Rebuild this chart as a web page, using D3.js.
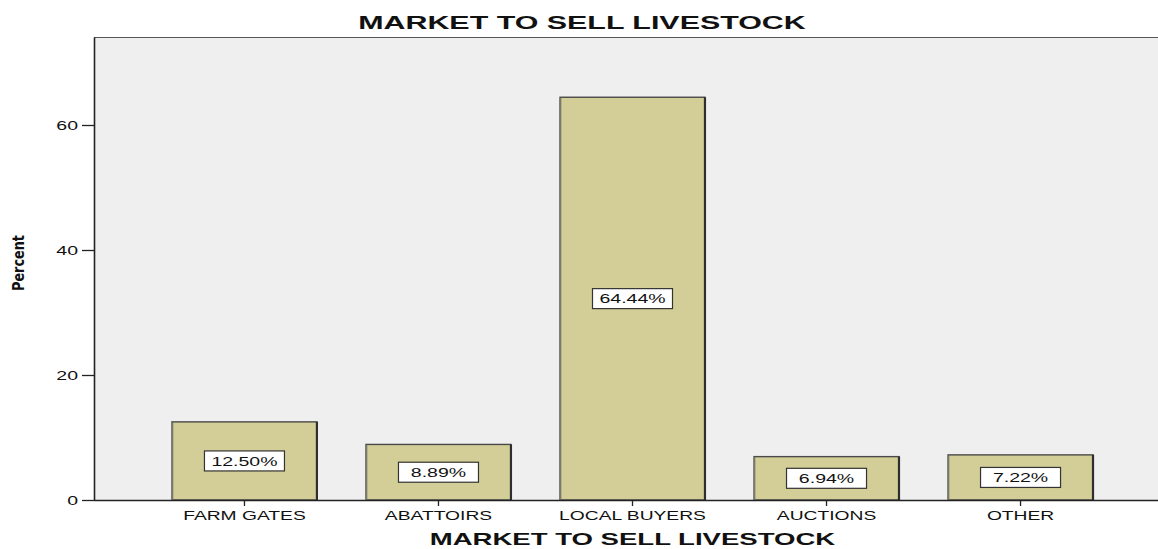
<!DOCTYPE html>
<html>
<head>
<meta charset="utf-8">
<script src="https://cdn.jsdelivr.net/npm/d3@7"></script>
<style>
  html, body { margin: 0; padding: 0; background: #ffffff; }
  svg { display: block; }
  text { font-family: "Liberation Sans", Arial, sans-serif; fill: #111; }
</style>
</head>
<body>
<svg id="chart" width="1158" height="549"></svg>
<script>
// Market used to sell livestock, percent of respondents
const categories = ["FARM GATES", "ABATTOIRS", "LOCAL BUYERS", "AUCTIONS", "OTHER"];
const percents   = [12.50, 8.89, 64.44, 6.94, 7.22];
const yTicks     = [0, 20, 40, 60];
const chartTitle = "MARKET TO SELL LIVESTOCK";
const xTitle     = "MARKET TO SELL LIVESTOCK";
const yTitle     = "Percent";

const W = 1158, H = 549;
const plot = { left: 94, top: 37, right: 1171, bottom: 500 };

const svg = d3.select("#chart");

// widen horizontal text the way the original renderer does
function widen(sel, factor) {
  sel.each(function () {
    const len = this.getComputedTextLength();
    d3.select(this).attr("textLength", len * factor).attr("lengthAdjust", "spacingAndGlyphs");
  });
}

const x = d3.scaleBand()
  .domain(categories)
  .range([plot.left, plot.right])
  .paddingInner(0.253)
  .paddingOuter(0.402);

const y = d3.scaleLinear()
  .domain([0, 74.08])
  .range([plot.bottom, plot.top]);

// plot background
svg.append("rect")
  .attr("x", plot.left).attr("y", plot.top)
  .attr("width", W - plot.left).attr("height", plot.bottom - plot.top)
  .attr("fill", "#efefef");

// top frame line
svg.append("line")
  .attr("x1", plot.left).attr("x2", W)
  .attr("y1", plot.top + 0.5).attr("y2", plot.top + 0.5)
  .attr("stroke", "#555").attr("stroke-width", 1.2);

// bars
const bars = svg.append("g");
bars.selectAll("rect.bar")
  .data(percents)
  .join("rect")
  .attr("class", "bar")
  .attr("x", (d, i) => x(categories[i]))
  .attr("y", d => y(d))
  .attr("width", x.bandwidth())
  .attr("height", d => y(0) - y(d))
  .attr("fill", "#d3ce98")
  .attr("stroke", "#4a4a4a")
  .attr("stroke-width", 1.4);

// darker shaded right edge and softer left edge
bars.selectAll("line.shade")
  .data(percents)
  .join("line")
  .attr("class", "shade")
  .attr("x1", (d, i) => x(categories[i]) + x.bandwidth())
  .attr("x2", (d, i) => x(categories[i]) + x.bandwidth())
  .attr("y1", d => y(d))
  .attr("y2", y(0))
  .attr("stroke", "#2e2e2e").attr("stroke-width", 2.2);
bars.selectAll("line.left")
  .data(percents)
  .join("line")
  .attr("class", "left")
  .attr("x1", (d, i) => x(categories[i]) + 0.5)
  .attr("x2", (d, i) => x(categories[i]) + 0.5)
  .attr("y1", d => y(d) + 1)
  .attr("y2", y(0))
  .attr("stroke", "#7a7a6a").attr("stroke-width", 1.6);

// value labels in white boxes at mid-height
const labels = svg.append("g").selectAll("g")
  .data(percents)
  .join("g")
  .attr("transform", (d, i) => `translate(${x(categories[i]) + x.bandwidth() / 2},${y(d / 2)})`);
labels.append("rect")
  .attr("x", -40).attr("y", -10)
  .attr("width", 80).attr("height", 20)
  .attr("fill", "#ffffff")
  .attr("stroke", "#333").attr("stroke-width", 1.2);
labels.append("text")
  .attr("text-anchor", "middle")
  .attr("dy", "0.36em")
  .attr("font-size", 13)
  .text(d => d.toFixed(2) + "%")
  .call(widen, 1.5);

// y axis
const yAxis = svg.append("g")
  .attr("transform", `translate(${plot.left},0)`)
  .call(d3.axisLeft(y).tickValues(yTicks).tickSize(12).tickSizeOuter(0).tickPadding(4).tickFormat(d3.format("d")));
yAxis.select(".domain").attr("stroke", "#222").attr("stroke-width", 1.6);
yAxis.selectAll(".tick line").attr("stroke", "#222").attr("stroke-width", 1.3);
yAxis.selectAll(".tick text")
  .attr("font-size", 13)
  .attr("font-family", "Liberation Sans, Arial, sans-serif")
  .attr("fill", "#222")
  .call(widen, 1.5);

// x axis
const xAxis = svg.append("g")
  .attr("transform", `translate(0,${plot.bottom})`)
  .call(d3.axisBottom(x).tickSize(6).tickPadding(5).tickSizeOuter(0));
xAxis.select(".domain").attr("stroke", "#222").attr("stroke-width", 1.6)
  .attr("d", `M${plot.left},0.5H${W}`);
xAxis.selectAll(".tick line").attr("stroke", "#222").attr("stroke-width", 1.3);
xAxis.selectAll(".tick text")
  .attr("font-size", 13)
  .attr("font-family", "Liberation Sans, Arial, sans-serif")
  .attr("fill", "#222")
  .call(widen, 1.48);

// chart title
svg.append("text")
  .attr("x", 582).attr("y", 29)
  .attr("text-anchor", "middle")
  .attr("font-size", 19)
  .attr("font-weight", "bold")
  .text(chartTitle)
  .call(widen, 1.6);

// x axis title
svg.append("text")
  .attr("x", (plot.left + plot.right) / 2).attr("y", 545)
  .attr("text-anchor", "middle")
  .attr("font-size", 17)
  .attr("font-weight", "bold")
  .text(xTitle)
  .call(widen, 1.62);

// y axis title
svg.append("text")
  .attr("transform", "translate(24,263) rotate(-90)")
  .attr("text-anchor", "middle")
  .attr("font-size", 16)
  .attr("font-weight", "bold")
  .style("font-family", "'Liberation Sans Narrow', 'DejaVu Sans Condensed', Arial, sans-serif")
  .text(yTitle)
  .attr("textLength", 56)
  .attr("lengthAdjust", "spacingAndGlyphs");
</script>
</body>
</html>
